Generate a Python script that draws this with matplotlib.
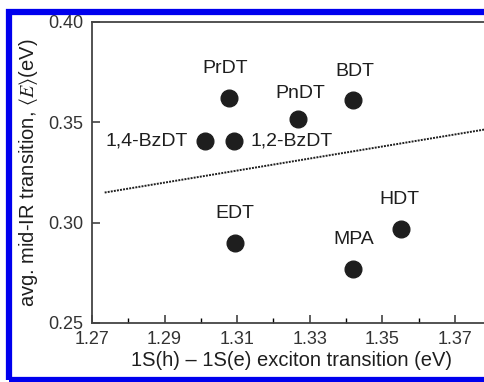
import matplotlib.pyplot as plt
from matplotlib.patches import Rectangle
from matplotlib.ticker import FixedLocator, MultipleLocator

plt.rcParams["font.family"] = ["Liberation Sans", "DejaVu Sans"]
plt.rcParams["mathtext.fontset"] = "stix"

# ligand labels and their (exciton, mid-IR) transition energies in eV
ligands = ["PrDT", "1,4-BzDT", "1,2-BzDT", "PnDT", "BDT", "EDT", "MPA", "HDT"]
exciton_ev = [1.3078, 1.3011, 1.3091, 1.3268, 1.3419, 1.3094, 1.3419, 1.3551]
midir_ev = [0.362, 0.3405, 0.3405, 0.3515, 0.361, 0.290, 0.277, 0.297]
label_offsets = [(-4, 30), (-17, 0), (17, 0), (2, 26), (2, 29), (0, 29), (1, 29), (-1, 29)]
label_align = ["center", "right", "left", "center", "center", "center", "center", "center"]

x_ticks = [1.27, 1.29, 1.31, 1.33, 1.35, 1.37]
x_minor = [1.28, 1.30, 1.32, 1.34, 1.36]
y_ticks = [0.25, 0.30, 0.35, 0.40]

# dotted trend line
trend_x = [1.2735, 1.3785]
trend_y = [0.315, 0.3465]

ink = "#1e1e1e"

fig = plt.figure(figsize=(4.84, 3.82), dpi=100)
ax = fig.add_axes([0.190, 0.1545, 0.825, 0.788])

ax.plot(trend_x, trend_y, linestyle=(0, (1, 0.6)), color=ink, linewidth=1.4)
ax.plot(exciton_ev, midir_ev, "o", color=ink, markersize=12, linestyle="none")

for name, x, y, off, ha in zip(ligands, exciton_ev, midir_ev, label_offsets, label_align):
    ax.annotate(name, (x, y), xytext=off, textcoords="offset pixels",
                ha=ha, va="center", fontsize=14, color=ink)

ax.set_xlim(1.27, 1.38)
ax.set_ylim(0.25, 0.40)
ax.xaxis.set_major_locator(FixedLocator(x_ticks))
ax.xaxis.set_minor_locator(FixedLocator(x_minor))
ax.yaxis.set_major_locator(FixedLocator(y_ticks))
ax.xaxis.set_major_formatter(plt.FormatStrFormatter("%.2f"))
ax.yaxis.set_major_formatter(plt.FormatStrFormatter("%.2f"))
ax.tick_params(axis="both", which="major", direction="in", length=6, width=1.1,
               labelsize=13, colors="#333333", pad=6)
ax.tick_params(axis="x", which="minor", direction="in", length=3.5, width=1.0)
ax.tick_params(axis="y", left=True, right=False)

for side in ["left", "bottom", "top", "right"]:
    ax.spines[side].set_color("#444444")
    ax.spines[side].set_linewidth(1.3)

ax.set_xlabel("1S(h) \u2013 1S(e) exciton transition (eV)", fontsize=14.5,
              color=ink, labelpad=2)
ax.set_ylabel(r"avg. mid-IR transition, $\langle E\rangle$(eV)", fontsize=14.5,
              color=ink, labelpad=6)

fig.patches.append(Rectangle((9 / 484, 2 / 382), 1.2, 368 / 382, transform=fig.transFigure,
                             fill=False, edgecolor="#0000ee", linewidth=4.5))

fig.savefig("out.png", dpi=100)
